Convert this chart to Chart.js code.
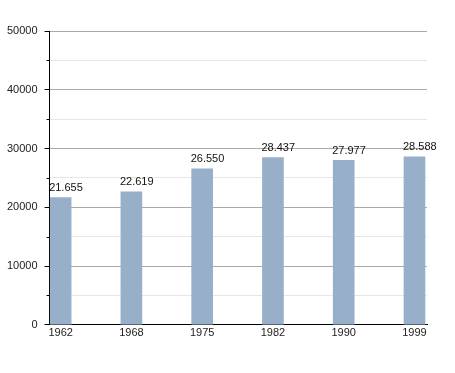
<!DOCTYPE html>
<html>
<head>
<meta charset="utf-8">
<script src="https://cdn.jsdelivr.net/npm/chart.js@4/dist/chart.umd.min.js"></script>
<style>
  html, body { margin: 0; padding: 0; background: #fff; }
  #wrap { width: 455px; height: 373px; position: relative; }
</style>
</head>
<body>
<div id="wrap"><canvas id="pop"></canvas></div>
<script>
const years = ['1962', '1968', '1975', '1982', '1990', '1999'];
const population = [21655, 22619, 26550, 28437, 27977, 28588];
const yTicks = [0, 10000, 20000, 30000, 40000, 50000];

const FONT = '"Liberation Sans", Arial, sans-serif';
const BAR = '#98afc9';

// 1.234 style labels
const fmt = (n) => String(n).replace(/\B(?=(\d{3})+(?!\d))/g, '.');

// value labels, left edge of the bar
const valueLabels = {
  id: 'valueLabels',
  afterDatasetsDraw(chart) {
    const { ctx } = chart;
    const meta = chart.getDatasetMeta(0);
    ctx.save();
    ctx.font = '11px ' + FONT;
    ctx.fillStyle = '#111';
    ctx.textAlign = 'left';
    ctx.textBaseline = 'bottom';
    meta.data.forEach((el, i) => {
      ctx.fillText(fmt(population[i]), el.x - el.width / 2 - 1, el.y - 4);
    });
    ctx.restore();
  }
};

// short ticks for the in-between gridlines
const minorTicks = {
  id: 'minorTicks',
  afterDraw(chart) {
    const { ctx, chartArea, scales } = chart;
    ctx.save();
    ctx.strokeStyle = '#000';
    ctx.lineWidth = 1;
    for (let v = 5000; v < 50000; v += 10000) {
      const y = Math.round(scales.y.getPixelForValue(v)) + 0.5;
      ctx.beginPath();
      ctx.moveTo(chartArea.left - 3, y);
      ctx.lineTo(chartArea.left, y);
      ctx.stroke();
    }
    ctx.restore();
  }
};

new Chart(document.getElementById('pop'), {
  type: 'bar',
  data: {
    datasets: [{
      data: population.map((v, i) => ({ x: i, y: v })),
      backgroundColor: BAR,
      borderWidth: 0,
      barThickness: 21
    }]
  },
  options: {
    responsive: true,
    maintainAspectRatio: false,
    animation: false,
    layout: { padding: { top: 31, right: 28, bottom: 31, left: 0 } },
    plugins: { legend: { display: false }, tooltip: { enabled: false } },
    scales: {
      x: {
        type: 'linear',
        offset: false,
        min: -0.156,
        max: 5.177,
        afterBuildTicks: (s) => { s.ticks = years.map((y, i) => ({ value: i })); },
        ticks: {
          callback: (v) => years[v] ?? '',
          font: { family: FONT, size: 11 },
          color: '#222',
          padding: 2,
          maxRotation: 0,
          autoSkip: false
        },
        grid: { display: false, drawTicks: false },
        border: { color: '#000', width: 1 }
      },
      y: {
        min: 0,
        max: 50000,
        afterBuildTicks: (s) => {
          const t = [];
          for (let v = 0; v <= 50000; v += 5000) t.push({ value: v });
          s.ticks = t;
        },
        ticks: {
          callback: (v) => (yTicks.includes(v) ? String(v) : ''),
          font: { family: FONT, size: 11 },
          color: '#222',
          padding: 7,
          autoSkip: false
        },
        grid: {
          color: (c) => (c.tick && c.tick.value % 10000 === 0 ? '#aaaaaa' : '#e6e6e6'),
          tickColor: (c) => (c.tick && c.tick.value % 10000 === 0 ? '#000' : 'rgba(0,0,0,0)'),
          tickLength: 5
        },
        border: { color: '#000', width: 1 }
      }
    }
  },
  plugins: [valueLabels, minorTicks]
});
</script>
</body>
</html>
